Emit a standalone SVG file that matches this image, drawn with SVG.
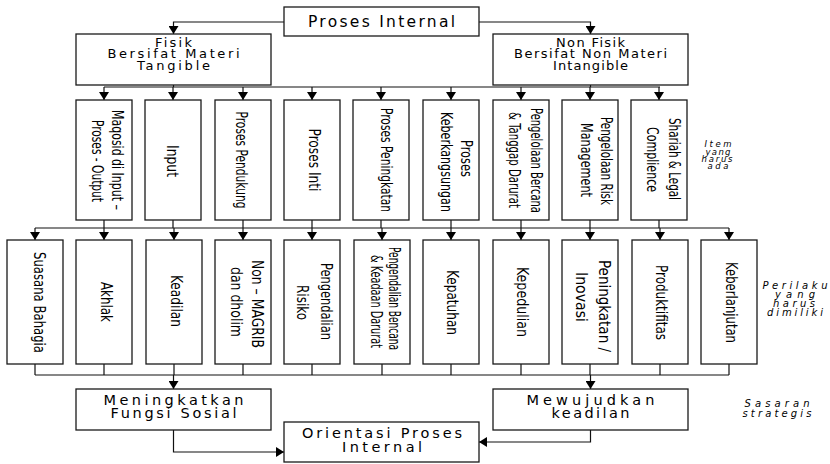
<svg xmlns="http://www.w3.org/2000/svg" width="830" height="464" viewBox="0 0 830 464">
<defs>
<marker id="ah" viewBox="0 0 8 10" refX="8" refY="5" markerWidth="8" markerHeight="10" markerUnits="userSpaceOnUse" orient="auto">
<path d="M0,0 L8,5 L0,10 z" fill="#000"/>
</marker>
<style>
rect{fill:#fff;stroke:#1a1a1a;stroke-width:1.3}
.c path{fill:none;stroke:#111;stroke-width:1.2}
.c .a{marker-end:url(#ah)}
.h{font-family:"DejaVu Sans","Open Sans",sans-serif;fill:#000;text-anchor:middle}
.rt{font-family:"Liberation Sans Narrow","DejaVu Sans Condensed","Liberation Sans",sans-serif;font-size:15px;fill:#000;text-anchor:middle}
.it{font-family:"DejaVu Sans","Open Sans",sans-serif;font-style:italic;font-size:10px;fill:#000;text-anchor:middle}
.it2{font-family:"DejaVu Sans","Open Sans",sans-serif;font-style:italic;font-size:8.5px;fill:#000;text-anchor:middle}
</style>
</defs>

<g class="c" id="connectors">
<path class="a" d="M284,22 H173.5 V34"/>
<path class="a" d="M479,22 H590.5 V34"/>
<path d="M173.5,85 V87 M590.5,85 V87 M104,87 H660"/>
<path class="a" d="M104,87 V100"/>
<path class="a" d="M173,87 V100"/>
<path class="a" d="M243,87 V100"/>
<path class="a" d="M312,87 V100"/>
<path class="a" d="M381,87 V100"/>
<path class="a" d="M451,87 V100"/>
<path class="a" d="M521,87 V100"/>
<path class="a" d="M590,87 V100"/>
<path class="a" d="M659,87 V100"/>
<path d="M104,220 V228 M173,220 V228 M243,220 V228 M312,220 V228 M381,220 V228 M451,220 V228 M521,220 V228 M590,220 V228 M659,220 V228 M35,228 H729"/>
<path class="a" d="M35,228 V240"/>
<path class="a" d="M104,228 V240"/>
<path class="a" d="M174,228 V240"/>
<path class="a" d="M243,228 V240"/>
<path class="a" d="M312,228 V240"/>
<path class="a" d="M382,228 V240"/>
<path class="a" d="M451,228 V240"/>
<path class="a" d="M521,228 V240"/>
<path class="a" d="M590,228 V240"/>
<path class="a" d="M660,228 V240"/>
<path class="a" d="M729,228 V240"/>
<path d="M35,364 V375 M104,364 V375 M174,364 V375 M243,364 V375 M312,364 V375 M382,364 V375 M451,364 V375 M521,364 V375 M590,364 V375 M660,364 V375 M729,364 V375 M35,375 H729"/>
<path class="a" d="M173.5,375 V389"/>
<path class="a" d="M590.5,375 V389"/>
<path class="a" d="M173.5,430 V452 H284"/>
<path class="a" d="M590.5,430 V442 H479"/>
</g>

<g id="proses-internal">
<rect x="284" y="7" width="195" height="29"/>
<text class="h" x="381.5" y="27" font-size="15.5" textLength="147">Proses Internal</text>
</g>
<g id="fisik">
<rect x="76" y="34" width="195" height="51"/>
<text class="h" font-size="13" x="173.5" y="46.5" textLength="37">Fisik</text>
<text class="h" font-size="13" x="173.5" y="58" textLength="132">Bersifat Materi</text>
<text class="h" font-size="13" x="173.5" y="69.5" textLength="73">Tangible</text>
</g>
<g id="non-fisik">
<rect x="493" y="34" width="195" height="51"/>
<text class="h" font-size="13" x="590.5" y="46.5" textLength="69">Non Fisik</text>
<text class="h" font-size="13" x="590.5" y="58" textLength="153">Bersifat Non Materi</text>
<text class="h" font-size="13" x="590.5" y="70" textLength="75">Intangible</text>
</g>

<g id="m1"><rect x="76" y="100" width="56" height="120"/>
<text class="rt" transform="translate(112,160) rotate(90)" textLength="100" lengthAdjust="spacingAndGlyphs">Maqosid di Input –</text>
<text class="rt" transform="translate(92,161) rotate(90)" textLength="82" lengthAdjust="spacingAndGlyphs">Proses - Output</text></g>
<g id="m2"><rect x="145" y="100" width="56" height="120"/>
<text class="rt" transform="translate(167,161) rotate(90)" textLength="32" lengthAdjust="spacingAndGlyphs">Input</text></g>
<g id="m3"><rect x="215" y="100" width="56" height="120"/>
<text class="rt" transform="translate(236,160) rotate(90)" textLength="97" lengthAdjust="spacingAndGlyphs">Proses Pendukung</text></g>
<g id="m4"><rect x="284" y="100" width="56" height="120"/>
<text class="rt" transform="translate(309,160) rotate(90)" textLength="63" lengthAdjust="spacingAndGlyphs">Proses Inti</text></g>
<g id="m5"><rect x="353" y="100" width="56" height="120"/>
<text class="rt" transform="translate(381,160) rotate(90)" textLength="104" lengthAdjust="spacingAndGlyphs">Proses Peningkatan</text></g>
<g id="m6"><rect x="423" y="100" width="56" height="120"/>
<text class="rt" transform="translate(461,158.5) rotate(90)" textLength="37" lengthAdjust="spacingAndGlyphs">Proses</text>
<text class="rt" transform="translate(441,162) rotate(90)" textLength="100" lengthAdjust="spacingAndGlyphs">Keberkangsungan</text></g>
<g id="m7"><rect x="493" y="100" width="56" height="120"/>
<text class="rt" transform="translate(531,160.5) rotate(90)" textLength="105" lengthAdjust="spacingAndGlyphs">Pengelolaan Bercana</text>
<text class="rt" transform="translate(509,160) rotate(90)" textLength="96" lengthAdjust="spacingAndGlyphs">&amp; Tanggap Darurat</text></g>
<g id="m8"><rect x="562" y="100" width="56" height="120"/>
<text class="rt" transform="translate(601,161) rotate(90)" textLength="88" lengthAdjust="spacingAndGlyphs">Pengelolaan Risk</text>
<text class="rt" transform="translate(581,160) rotate(90)" textLength="74" lengthAdjust="spacingAndGlyphs">Management</text></g>
<g id="m9"><rect x="631" y="100" width="56" height="120"/>
<text class="rt" transform="translate(669,159) rotate(90)" textLength="82" lengthAdjust="spacingAndGlyphs">Shariah &amp; Legal</text>
<text class="rt" transform="translate(647,159.5) rotate(90)" textLength="65" lengthAdjust="spacingAndGlyphs">Complience</text></g>

<g id="item-label">
<text class="it2" x="718" y="147" textLength="27">Item</text>
<text class="it2" x="718" y="154.5" textLength="25">yang</text>
<text class="it2" x="717" y="161.5" textLength="31">harus</text>
<text class="it2" x="718" y="169" textLength="21">ada</text>
</g>

<g id="b1"><rect x="7" y="240" width="56" height="124"/>
<text class="rt" transform="translate(34,302.5) rotate(90)" textLength="101" lengthAdjust="spacingAndGlyphs">Suasana Bahagia</text></g>
<g id="b2"><rect x="76" y="240" width="56" height="124"/>
<text class="rt" transform="translate(101,302) rotate(90)" textLength="40" lengthAdjust="spacingAndGlyphs">Akhlak</text></g>
<g id="b3"><rect x="146" y="240" width="56" height="124"/>
<text class="rt" transform="translate(171,301) rotate(90)" textLength="52" lengthAdjust="spacingAndGlyphs">Keadilan</text></g>
<g id="b4"><rect x="215" y="240" width="56" height="124"/>
<text class="rt" transform="translate(252,304) rotate(90)" textLength="88" lengthAdjust="spacingAndGlyphs">Non – MAGRIB</text>
<text class="rt" transform="translate(231,302) rotate(90)" textLength="70" lengthAdjust="spacingAndGlyphs">dan dholim</text></g>
<g id="b5"><rect x="284" y="240" width="56" height="124"/>
<text class="rt" transform="translate(321,301.5) rotate(90)" textLength="77" lengthAdjust="spacingAndGlyphs">Pengendalian</text>
<text class="rt" transform="translate(297,302.5) rotate(90)" textLength="35" lengthAdjust="spacingAndGlyphs">Risiko</text></g>
<g id="b6"><rect x="354" y="240" width="56" height="124"/>
<text class="rt" transform="translate(389,298.5) rotate(90)" textLength="103" lengthAdjust="spacingAndGlyphs">Pengendalian Bencana</text>
<text class="rt" transform="translate(371,301.5) rotate(90)" textLength="93" lengthAdjust="spacingAndGlyphs">&amp; Keadaan Darurat</text></g>
<g id="b7"><rect x="423" y="240" width="56" height="124"/>
<text class="rt" transform="translate(447,302.5) rotate(90)" textLength="65" lengthAdjust="spacingAndGlyphs">Kepatuhan</text></g>
<g id="b8"><rect x="493" y="240" width="56" height="124"/>
<text class="rt" transform="translate(517,302) rotate(90)" textLength="70" lengthAdjust="spacingAndGlyphs">Kepedulian</text></g>
<g id="b9"><rect x="562" y="240" width="56" height="124"/>
<text class="rt" transform="translate(599,306) rotate(90)" textLength="92" lengthAdjust="spacingAndGlyphs">Peningkatan /</text>
<text class="rt" transform="translate(576,297) rotate(90)" textLength="50" lengthAdjust="spacingAndGlyphs">Inovasi</text></g>
<g id="b10"><rect x="632" y="240" width="56" height="124"/>
<text class="rt" transform="translate(656,302.5) rotate(90)" textLength="75" lengthAdjust="spacingAndGlyphs">Produktifitas</text></g>
<g id="b11"><rect x="701" y="240" width="56" height="124"/>
<text class="rt" transform="translate(726,302.5) rotate(90)" textLength="81" lengthAdjust="spacingAndGlyphs">Keberlanjutan</text></g>

<g id="perilaku-label">
<text class="it" x="795" y="289" textLength="65">Perilaku</text>
<text class="it" x="795" y="297.5" textLength="40">yang</text>
<text class="it" x="794" y="306.5" textLength="42">harus</text>
<text class="it" x="795" y="316" textLength="56">dimiliki</text>
</g>

<g id="meningkatkan">
<rect x="76" y="389" width="195" height="41"/>
<text class="h" font-size="14.5" x="173.5" y="405" textLength="140">Meningkatkan</text>
<text class="h" font-size="14.5" x="173.5" y="417.5" textLength="126">Fungsi Sosial</text>
</g>
<g id="mewujudkan">
<rect x="493" y="389" width="195" height="41"/>
<text class="h" font-size="14.5" x="590.5" y="405" textLength="128">Mewujudkan</text>
<text class="h" font-size="14.5" x="590.5" y="417.5" textLength="78">keadilan</text>
</g>
<g id="orientasi">
<rect x="284" y="422" width="195" height="40"/>
<text class="h" font-size="14.5" x="382" y="438" textLength="160">Orientasi Proses</text>
<text class="h" font-size="14.5" x="382" y="452" textLength="80">Internal</text>
</g>
<g id="sasaran-label">
<text class="it" x="777" y="407" textLength="65">Sasaran</text>
<text class="it" x="777" y="417" textLength="69">strategis</text>
</g>
</svg>
